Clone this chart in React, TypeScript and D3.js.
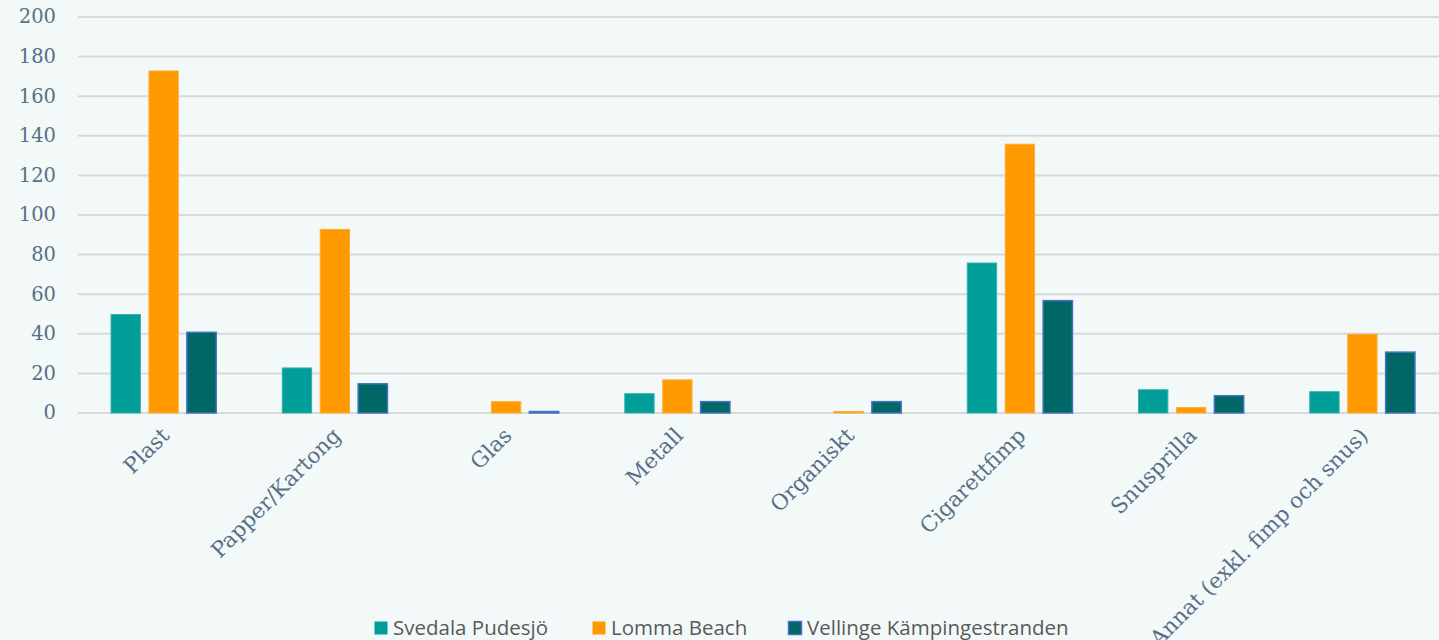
import React from 'react';
import * as d3 from 'd3';

const categories = ['Plast', 'Papper/Kartong', 'Glas', 'Metall', 'Organiskt', 'Cigarettfimp', 'Snusprilla', 'Annat (exkl. fimp och snus)'];
const seriesNames = ['Svedala Pudesjö', 'Lomma Beach', 'Vellinge Kämpingestranden'];
const svedala = [50, 23, 0, 10, 0, 76, 12, 11];
const lomma = [173, 93, 6, 17, 1, 136, 3, 40];
const vellinge = [41, 15, 1, 6, 6, 57, 9, 31];
const yTicks = [0, 20, 40, 60, 80, 100, 120, 140, 160, 180, 200];

const fills = ['#009d99', '#ff9900', '#006766'];
const strokes = ['#33b0ad', '#ffad33', '#4472c4'];

const W = 1439;
const H = 640;

export default function App() {
  const series = [svedala, lomma, vellinge];

  const x = d3.scaleBand<string>().domain(categories).range([78, 1448]);
  const inner = d3
    .scaleBand<number>()
    .domain([0, 1, 2])
    .range([x.bandwidth() * 0.19, x.bandwidth() * 0.81])
    .paddingInner(0.2);
  const y = d3.scaleLinear().domain([0, 200]).range([413, 17]);

  const legendX = [374, 592, 788];

  return (
    <svg
      width={W}
      height={H}
      style={{ position: 'absolute', left: 0, top: 0, background: '#f3f9f9' }}
    >
      <rect width={W} height={H} fill="#f3f9f9" />
      {yTicks.map((t) => (
        <g key={t}>
          <line x1={78} x2={W} y1={y(t)} y2={y(t)} stroke="#d9d9d9" strokeWidth={2} />
          <text
            x={56}
            y={y(t)}
            dy="0.33em"
            textAnchor="end"
            fontFamily="'DejaVu Serif', serif"
            fontSize={19.5}
            fill="#587087"
          >
            {t}
          </text>
        </g>
      ))}

      {categories.map((c, i) => (
        <g key={c} transform={`translate(${x(c)},0)`}>
          {series.map((s, j) => {
            const v = s[i];
            if (!v) return null;
            const yy = y(v);
            return (
              <rect
                key={j}
                x={inner(j)! + 0.5}
                y={yy + 0.5}
                width={inner.bandwidth() - 1}
                height={Math.max(y(0) - yy - 0.5, 0.5)}
                fill={fills[j]}
                stroke={strokes[j]}
                strokeWidth={j === 2 ? 1.5 : 1}
              />
            );
          })}
          <text
            transform={`translate(${x.bandwidth() / 2 + 7},${437}) rotate(-45)`}
            textAnchor="end"
            fontFamily="'DejaVu Serif', serif"
            fontSize={21.5}
            fill="#587087"
          >
            {c}
          </text>
        </g>
      ))}

      {seriesNames.map((n, j) => (
        <g key={n} transform={`translate(${legendX[j]},${621})`}>
          <rect
            x={0.5}
            y={0.5}
            width={13}
            height={13}
            fill={fills[j]}
            stroke={j === 2 ? '#4472c4' : 'none'}
            strokeWidth={1.5}
          />
          <text
            x={19}
            y={7}
            dy="0.36em"
            fontFamily="'Open Sans', sans-serif"
            fontSize={20.5}
            fill="#595959"
          >
            {n}
          </text>
        </g>
      ))}
    </svg>
  );
}
